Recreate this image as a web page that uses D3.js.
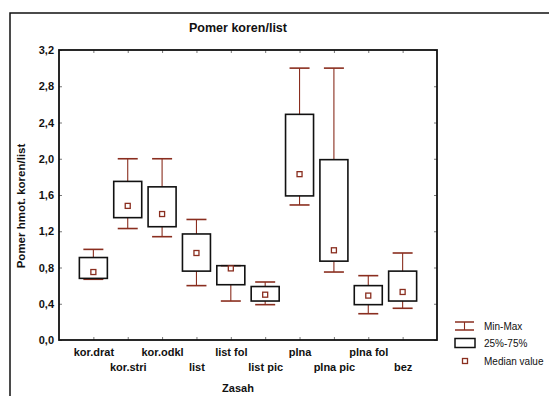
<!DOCTYPE html>
<html>
<head>
<meta charset="utf-8">
<script src="https://cdn.jsdelivr.net/npm/d3@7/dist/d3.min.js"></script>
<style>
  html, body { margin: 0; padding: 0; background: #fff; }
  svg { display: block; }
  text { font-family: "Liberation Sans", Arial, sans-serif; font-weight: bold; fill: #111; }
</style>
</head>
<body>
<svg id="chart" width="549" height="396"></svg>
<script>
// Treatment groups (Zasah)
const categories = ["kor.drat", "kor.stri", "kor.odkl", "list", "list fol",
                    "list pic", "plna", "plna pic", "plna fol", "bez"];
// Box-plot statistics of the root/leaf weight ratio per group
const minVals = [0.67, 1.23, 1.14, 0.60, 0.43, 0.39, 1.49, 0.75, 0.29, 0.35];
const q1Vals  = [0.68, 1.35, 1.25, 0.76, 0.61, 0.43, 1.59, 0.87, 0.39, 0.43];
const medVals = [0.75, 1.48, 1.39, 0.96, 0.79, 0.50, 1.83, 0.99, 0.49, 0.53];
const q3Vals  = [0.91, 1.75, 1.69, 1.17, 0.82, 0.59, 2.49, 1.99, 0.60, 0.76];
const maxVals = [1.00, 2.00, 2.00, 1.33, 0.82, 0.64, 3.00, 3.00, 0.71, 0.96];
const yTicks  = [0.0, 0.4, 0.8, 1.2, 1.6, 2.0, 2.4, 2.8, 3.2];
const legendLabels = ["Min-Max", "25%-75%", "Median value"];

const svg = d3.select("#chart");
const RED = "#8a2e1f";
const plot = { left: 59, right: 437, top: 50, bottom: 340 };

const x = d3.scalePoint().domain(categories).range([plot.left, plot.right]).padding(1);
const y = d3.scaleLinear().domain([0, 3.2]).range([plot.bottom, plot.top]);

const data = categories.map((c, i) => ({
  cat: c, min: minVals[i], q1: q1Vals[i], med: medVals[i], q3: q3Vals[i], max: maxVals[i]
}));

// Outer graph frame
svg.append("path")
  .attr("d", "M10,400 V13 H552")
  .attr("fill", "none").attr("stroke", "#111").attr("stroke-width", 1.5);

// Title
svg.append("text").attr("x", 238).attr("y", 32).attr("text-anchor", "middle")
  .style("font-size", "12.5px").text("Pomer koren/list");

const fmt = d => d3.format(".1f")(d).replace(".", ",");

// Axes with inward ticks
const gy = svg.append("g").attr("transform", `translate(${plot.left},0)`)
  .call(d3.axisLeft(y).tickValues(yTicks).tickFormat(fmt).tickSizeInner(-3).tickSizeOuter(0).tickPadding(5));
gy.select(".domain").remove();
gy.selectAll("text").style("font-size", "11px");

const gyR = svg.append("g").attr("transform", `translate(${plot.right},0)`)
  .call(d3.axisRight(y).tickValues(yTicks).tickFormat("").tickSizeInner(-3).tickSizeOuter(0));
gyR.select(".domain").remove();

const gx = svg.append("g").attr("transform", `translate(0,${plot.bottom})`)
  .call(d3.axisBottom(x).tickSizeInner(-3).tickSizeOuter(0).tickPadding(8));
gx.select(".domain").remove();
gx.selectAll("text").style("font-size", "11px")
  .attr("y", (d, i) => (i % 2 === 0 ? 8 : 23));

const gxT = svg.append("g").attr("transform", `translate(0,${plot.top})`)
  .call(d3.axisTop(x).tickFormat("").tickSizeInner(-3).tickSizeOuter(0));
gxT.select(".domain").remove();

svg.selectAll(".tick line").attr("stroke", "#555").attr("stroke-width", 0.8);

// Plot frame
svg.append("rect")
  .attr("x", plot.left).attr("y", plot.top)
  .attr("width", plot.right - plot.left).attr("height", plot.bottom - plot.top)
  .attr("fill", "none").attr("stroke", "#111").attr("stroke-width", 1.8);

// Axis titles
svg.append("text").attr("x", 238).attr("y", 392).attr("text-anchor", "middle")
  .style("font-size", "11px").text("Zasah");
svg.append("text").attr("transform", "translate(25,206) rotate(-90)").attr("text-anchor", "middle")
  .style("font-size", "11.5px").text("Pomer hmot. koren/list");

// Boxes
const boxW = 28, capW = 20, medS = 5;
const g = svg.append("g").selectAll("g").data(data).join("g");

g.append("line").attr("x1", d => x(d.cat)).attr("x2", d => x(d.cat))
  .attr("y1", d => y(d.max)).attr("y2", d => y(d.q3))
  .attr("stroke", RED).attr("stroke-width", 1.1);
g.append("line").attr("x1", d => x(d.cat)).attr("x2", d => x(d.cat))
  .attr("y1", d => y(d.q1)).attr("y2", d => y(d.min))
  .attr("stroke", RED).attr("stroke-width", 1.1);
g.append("line").attr("x1", d => x(d.cat) - capW / 2).attr("x2", d => x(d.cat) + capW / 2)
  .attr("y1", d => y(d.max)).attr("y2", d => y(d.max))
  .attr("stroke", RED).attr("stroke-width", 1.6);
g.append("line").attr("x1", d => x(d.cat) - capW / 2).attr("x2", d => x(d.cat) + capW / 2)
  .attr("y1", d => y(d.min)).attr("y2", d => y(d.min))
  .attr("stroke", RED).attr("stroke-width", 1.6);
g.append("rect").attr("x", d => x(d.cat) - boxW / 2).attr("y", d => y(d.q3))
  .attr("width", boxW).attr("height", d => y(d.q1) - y(d.q3))
  .attr("fill", "none").attr("stroke", "#111").attr("stroke-width", 1.6);
g.append("rect").attr("x", d => x(d.cat) - medS / 2).attr("y", d => y(d.med) - medS / 2)
  .attr("width", medS).attr("height", medS)
  .attr("fill", "#fff").attr("stroke", RED).attr("stroke-width", 1.3);

// Legend
const lg = svg.append("g");
const lx = 455, rows = [326, 343, 361];
lg.append("line").attr("x1", lx).attr("x2", lx + 19).attr("y1", rows[0] - 4).attr("y2", rows[0] - 4).attr("stroke", RED).attr("stroke-width", 1.5);
lg.append("line").attr("x1", lx).attr("x2", lx + 19).attr("y1", rows[0] + 4).attr("y2", rows[0] + 4).attr("stroke", RED).attr("stroke-width", 1.5);
lg.append("line").attr("x1", lx + 9.5).attr("x2", lx + 9.5).attr("y1", rows[0] - 4).attr("y2", rows[0] + 4).attr("stroke", RED).attr("stroke-width", 1.1);
lg.append("rect").attr("x", lx).attr("y", rows[1] - 4.5).attr("width", 20).attr("height", 9)
  .attr("fill", "none").attr("stroke", "#111").attr("stroke-width", 1.5);
lg.append("rect").attr("x", lx + 7.5).attr("y", rows[2] - 2.5).attr("width", 5).attr("height", 5)
  .attr("fill", "#fff").attr("stroke", RED).attr("stroke-width", 1.3);
lg.selectAll("text.lab").data(legendLabels).join("text").attr("class", "lab")
  .attr("x", 484).attr("y", (d, i) => rows[i]).attr("dy", "0.35em")
  .style("font-size", "10px").style("font-weight", "normal").text(d => d);
</script>
</body>
</html>
